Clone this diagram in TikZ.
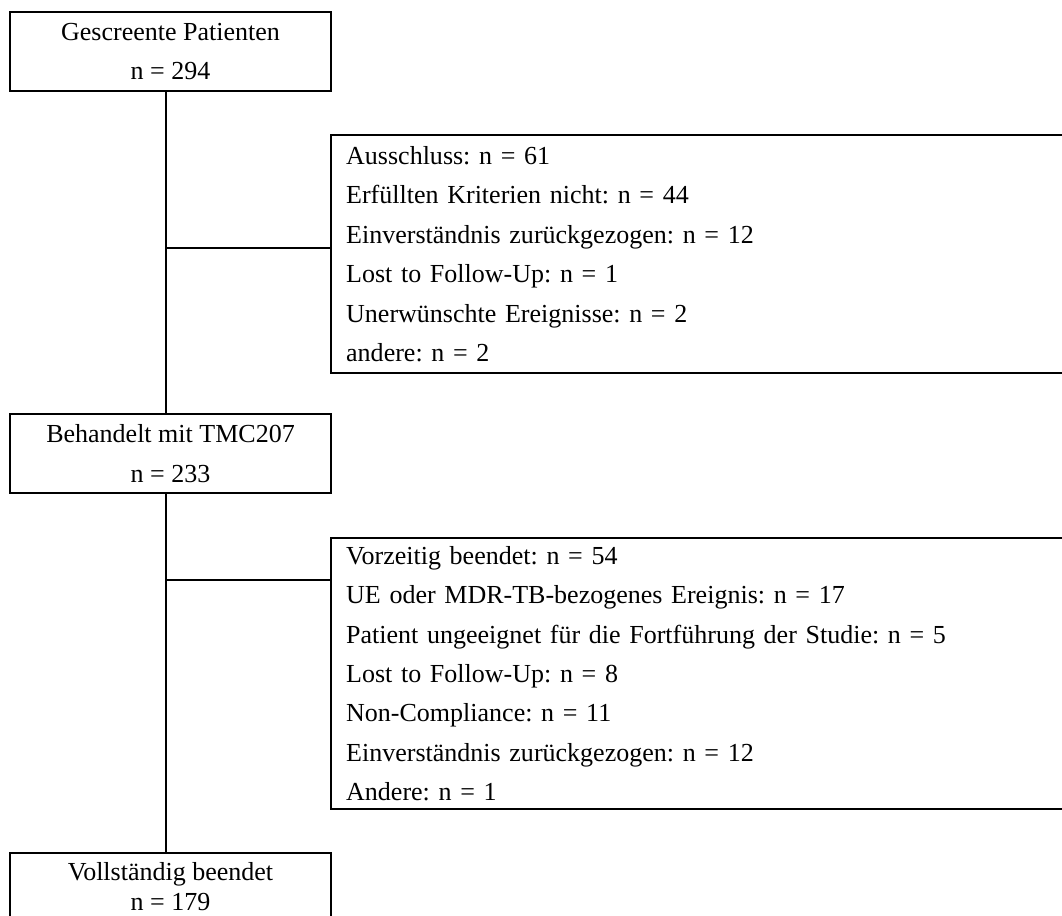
\documentclass[tikz,border=0pt]{standalone}
\usepackage{fontspec}
\setmainfont{Liberation Serif}
\frenchspacing

\begin{document}
\begin{tikzpicture}[
    stagebox/.style={draw, line width=1.7pt, align=center, minimum width=8.025cm, minimum height=1.975cm, inner sep=0pt, font=\fontsize{18.5pt}{28.4pt}\selectfont},
    dropbox/.style={draw, line width=1.7pt, align=left, anchor=north west, text width=18cm, inner xsep=0.375cm, inner ysep=0pt, font=\fontsize{18.5pt}{28pt}\selectfont},
    link/.style={line width=1.7pt}]
                  \clip (0,0) rectangle (26.55,22.9);
                  % screened box
                  \node [stagebox] (screened) at (4.2625,21.6125) {Gescreente Patienten\\n = 294};
                  % treated box
                  \node [stagebox] (treated) at (4.2625,11.5625) {Behandelt mit TMC207\\n = 233};
                  % completed box
                  \node [stagebox,minimum height=1.7cm,font=\fontsize{18.5pt}{21.3pt}\selectfont] (completed) at (4.2625,0.725) {Vollständig beendet\\n = 179};
                  % exclusion box
                  \node [dropbox,minimum height=5.95cm] (excluded) at (8.25,19.55) {Ausschluss: n = 61\\Erfüllten Kriterien nicht: n = 44\\Einverständnis zurückgezogen: n = 12\\Lost to Follow-Up: n = 1\\Unerwünschte Ereignisse: n = 2\\andere: n = 2};
                  % discontinued box
                  \node [dropbox,minimum height=6.775cm] (stopped) at (8.25,9.475) {Vorzeitig beendet: n = 54\\UE oder MDR-TB-bezogenes Ereignis: n = 17\\Patient ungeeignet für die Fortführung der Studie: n = 5\\Lost to Follow-Up: n = 8\\Non-Compliance: n = 11\\Einverständnis zurückgezogen: n = 12\\Andere: n = 1};
                  % trunk line
                  \coordinate (trunk) at (4.15,0);
                  \draw [link] (screened.south -| trunk) -- (treated.north -| trunk);
                  \draw [link] (treated.south -| trunk) -- (completed.north -| trunk);
                  % branches right
                  \coordinate (fork1) at (4.15,16.7);
                  \coordinate (fork2) at (4.15,8.4);
                  \draw [link] (fork1) -- (fork1 -| excluded.west);
                  \draw [link] (fork2) -- (fork2 -| stopped.west);
\end{tikzpicture}
\end{document}
